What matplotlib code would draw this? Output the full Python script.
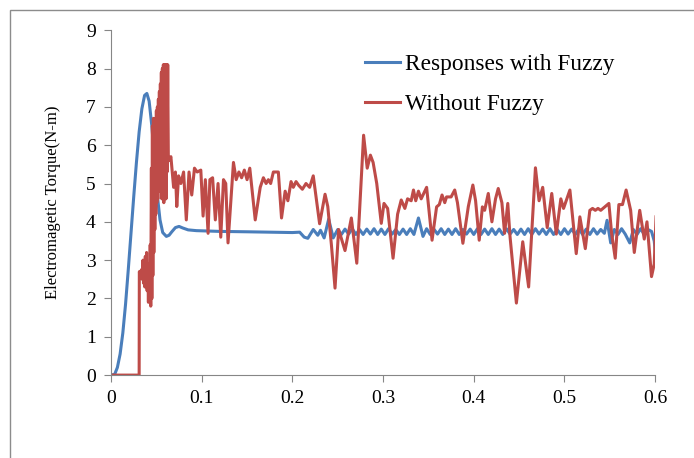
import matplotlib.pyplot as plt
from matplotlib.patches import Rectangle

# Torque response (time in s, torque in N-m)
blue_t = [0.000, 0.004, 0.007, 0.010, 0.013, 0.016, 0.019, 0.022, 0.025, 0.028,
          0.031, 0.034, 0.037, 0.0395, 0.042, 0.045, 0.048, 0.051, 0.054, 0.057,
          0.061, 0.064, 0.067, 0.071, 0.075, 0.079, 0.085, 0.094, 0.120, 0.150,
          0.200, 0.208, 0.213, 0.217, 0.223, 0.228, 0.231, 0.235, 0.240, 0.245,
          0.250, 0.254, 0.258, 0.262, 0.266, 0.270, 0.274, 0.278, 0.282, 0.286,
          0.290, 0.294, 0.298, 0.302, 0.306, 0.310, 0.314, 0.318, 0.322, 0.326,
          0.330, 0.334, 0.339, 0.344, 0.348, 0.352, 0.356, 0.360, 0.364, 0.368,
          0.372, 0.376, 0.380, 0.384, 0.388, 0.392, 0.396, 0.400, 0.404, 0.408,
          0.412, 0.416, 0.420, 0.424, 0.428, 0.432, 0.436, 0.440, 0.444, 0.448,
          0.452, 0.456, 0.460, 0.464, 0.468, 0.472, 0.476, 0.480, 0.484, 0.488,
          0.492, 0.496, 0.500, 0.504, 0.508, 0.512, 0.516, 0.520, 0.524, 0.528,
          0.532, 0.536, 0.540, 0.544, 0.547, 0.551, 0.555, 0.559, 0.563, 0.567,
          0.572, 0.576, 0.580, 0.584, 0.588, 0.592, 0.596, 0.599, 0.601]
blue_y = [0.00, 0.02, 0.20, 0.55, 1.10, 1.85, 2.75, 3.70, 4.65, 5.55,
          6.35, 6.95, 7.30, 7.35, 7.15, 6.50, 5.60, 4.70, 4.05, 3.72,
          3.62, 3.65, 3.74, 3.85, 3.88, 3.84, 3.79, 3.77, 3.75, 3.74,
          3.72, 3.73, 3.60, 3.57, 3.80, 3.65, 3.78, 3.58, 4.07, 3.58,
          3.80, 3.67, 3.81, 3.68, 3.82, 3.67, 3.80, 3.67, 3.81, 3.68,
          3.82, 3.67, 3.81, 3.67, 3.82, 3.68, 3.80, 3.67, 3.81, 3.67,
          3.82, 3.67, 4.10, 3.62, 3.82, 3.67, 3.81, 3.68, 3.82, 3.67,
          3.81, 3.67, 3.82, 3.67, 3.80, 3.68, 3.81, 3.67, 3.82, 3.67,
          3.81, 3.67, 3.82, 3.67, 3.81, 3.67, 3.82, 3.68, 3.80, 3.67,
          3.81, 3.67, 3.82, 3.67, 3.82, 3.68, 3.81, 3.67, 3.82, 3.67,
          3.80, 3.67, 3.82, 3.68, 3.81, 3.67, 3.82, 3.67, 3.81, 3.67,
          3.82, 3.68, 3.80, 3.70, 4.04, 3.45, 3.80, 3.67, 3.82, 3.68,
          3.45, 3.80, 3.67, 3.82, 3.67, 3.80, 3.75, 3.50, 3.05]

red_t = [0.0000, 0.0310, 0.0312, 0.0325, 0.0335, 0.0345, 0.0352, 0.0358, 0.0365, 0.0372,
         0.0378, 0.0385, 0.0392, 0.0398, 0.0405, 0.0412, 0.0418, 0.0425, 0.0432, 0.0438,
         0.0445, 0.0450, 0.0456, 0.0461, 0.0467, 0.0472, 0.0478, 0.0483, 0.0489, 0.0494,
         0.0500, 0.0505, 0.0511, 0.0516, 0.0522, 0.0527, 0.0533, 0.0538, 0.0544, 0.0549,
         0.0555, 0.0560, 0.0566, 0.0571, 0.0577, 0.0582, 0.0588, 0.0593, 0.0600, 0.0606,
         0.0612, 0.0618, 0.0625, 0.0632, 0.0640, 0.0660, 0.0690, 0.0710, 0.0725, 0.0745,
         0.0770, 0.0800, 0.0830, 0.0860, 0.0890, 0.0920, 0.0950, 0.0990, 0.1015, 0.1040,
         0.1070, 0.1090, 0.1120, 0.1150, 0.1180, 0.1210, 0.1240, 0.1265, 0.1290, 0.1350,
         0.1380, 0.1410, 0.1440, 0.1470, 0.1500, 0.1530, 0.1590, 0.1645, 0.1680, 0.1710,
         0.1735, 0.1760, 0.1790, 0.1845, 0.1880, 0.1920, 0.1950, 0.1985, 0.2010, 0.2040,
         0.2070, 0.2110, 0.2150, 0.2190, 0.2230, 0.2300, 0.2360, 0.2390, 0.2430, 0.2470,
         0.2510, 0.2580, 0.2650, 0.2710, 0.2785, 0.2825, 0.2860, 0.2890, 0.2930, 0.2980,
         0.3010, 0.3050, 0.3110, 0.3160, 0.3200, 0.3240, 0.3270, 0.3310, 0.3335, 0.3360,
         0.3390, 0.3420, 0.3480, 0.3540, 0.3590, 0.3620, 0.3650, 0.3680, 0.3700, 0.3750,
         0.3790, 0.3820, 0.3880, 0.3940, 0.3990, 0.4020, 0.4060, 0.4095, 0.4120, 0.4160,
         0.4200, 0.4240, 0.4270, 0.4310, 0.4340, 0.4375, 0.4400, 0.4470, 0.4540, 0.4605,
         0.4680, 0.4720, 0.4760, 0.4810, 0.4860, 0.4910, 0.4960, 0.4990, 0.5060, 0.5130,
         0.5170, 0.5230, 0.5280, 0.5310, 0.5340, 0.5370, 0.5400, 0.5490, 0.5520, 0.5560,
         0.5600, 0.5640, 0.5680, 0.5730, 0.5770, 0.5830, 0.5880, 0.5910, 0.5960, 0.5990,
         0.6010]
red_y = [0.00, 0.00, 2.70, 2.60, 2.75, 2.50, 3.00, 2.40, 2.90, 2.30,
         3.10, 2.50, 3.20, 2.20, 2.90, 1.90, 2.80, 2.00, 3.40, 1.80,
         5.40, 2.00, 6.50, 2.60, 6.70, 3.20, 6.60, 3.80, 6.70, 4.20,
         6.90, 4.50, 7.00, 4.60, 7.20, 4.80, 7.40, 5.00, 7.60, 5.10,
         7.90, 4.60, 8.00, 5.20, 8.10, 4.50, 8.10, 5.50, 8.10, 4.60,
         8.10, 5.30, 8.10, 5.60, 5.60, 5.70, 4.90, 5.30, 4.40, 5.20,
         5.00, 5.30, 4.05, 5.30, 4.70, 5.40, 5.30, 5.35, 4.15, 5.10,
         3.70, 5.10, 5.15, 4.05, 5.00, 3.60, 5.10, 5.00, 3.45, 5.55,
         5.10, 5.30, 5.15, 5.35, 5.10, 5.40, 4.05, 4.90, 5.15, 5.00,
         5.10, 5.00, 5.30, 5.30, 4.10, 4.80, 4.55, 5.05, 4.90, 5.05,
         4.95, 4.85, 5.00, 4.90, 5.20, 3.95, 4.72, 4.40, 3.40, 2.27,
         3.80, 3.25, 4.10, 2.92, 6.26, 5.40, 5.74, 5.55, 5.00, 3.96,
         4.48, 4.35, 3.05, 4.20, 4.57, 4.35, 4.60, 4.55, 4.83, 4.55,
         4.80, 4.60, 4.90, 3.52, 4.39, 4.45, 4.70, 4.50, 4.65, 4.65,
         4.83, 4.50, 3.44, 4.40, 4.96, 4.55, 3.52, 4.39, 4.30, 4.74,
         4.00, 4.60, 4.87, 4.50, 3.70, 4.48, 3.61, 1.88, 3.48, 2.30,
         5.41, 4.55, 4.90, 3.85, 4.74, 3.68, 4.60, 4.35, 4.83, 3.17,
         4.13, 3.30, 4.30, 4.35, 4.30, 4.35, 4.30, 4.48, 3.70, 3.05,
         4.45, 4.45, 4.83, 4.30, 3.20, 4.30, 3.55, 4.00, 2.57, 2.90,
         4.13]

x_ticks = [0, 0.1, 0.2, 0.3, 0.4, 0.5, 0.6]
x_labels = ["0", "0.1", "0.2", "0.3", "0.4", "0.5", "0.6"]
y_ticks = list(range(0, 10))

plt.rcParams["font.family"] = ["Liberation Serif", "DejaVu Serif"]

fig = plt.figure(figsize=(6.94, 4.58), dpi=100)
ax = fig.add_axes([0.160, 0.181, 0.784, 0.753])

# outer frame of the original screenshot (top and left edges only)
fig.add_artist(Rectangle((10 / 694, -0.1), 1.2, 1 - 10 / 458 + 0.1,
                         transform=fig.transFigure, fill=False,
                         edgecolor="#8c8c8c", linewidth=1.0))

ax.plot(blue_t, blue_y, color="#4a7ebb", linewidth=2.2, solid_joinstyle="round",
        label="Responses with Fuzzy")
ax.plot(red_t, red_y, color="#be4b48", linewidth=2.2, solid_joinstyle="round",
        label="Without Fuzzy")

ax.set_xlim(0, 0.6)
ax.set_ylim(0, 9)
ax.set_xticks(x_ticks)
ax.set_xticklabels(x_labels)
ax.set_yticks(y_ticks)
ax.tick_params(axis="both", labelsize=14, length=5, width=0.8, color="#868686", pad=6)

for side in ["top", "right"]:
    ax.spines[side].set_visible(False)
for side in ["left", "bottom"]:
    ax.spines[side].set_color("#868686")
    ax.spines[side].set_linewidth(0.8)

ax.set_ylabel("Electromagetic Torque(N-m)", fontsize=12, labelpad=18)

ax.legend(loc="upper left", bbox_to_anchor=(0.467, 0.933), frameon=False,
          fontsize=16.8, handlelength=1.5, handletextpad=0.2, labelspacing=0.82,
          borderpad=0, borderaxespad=0)

fig.savefig("out.png", dpi=100)
